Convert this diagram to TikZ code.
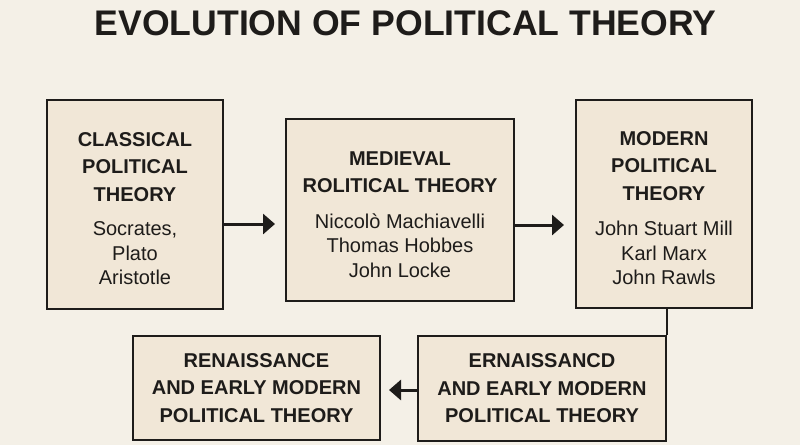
\documentclass[tikz,border=0pt]{standalone}
\usepackage{fontspec}
\setmainfont{Liberation Sans}
\usetikzlibrary{arrows.meta}

\definecolor{paper}{HTML}{F4F0E7}
\definecolor{boxfill}{HTML}{F1E7D7}
\definecolor{ink}{HTML}{1E1C1A}

\newcommand{\hd}[1]{\textbf{\fontsize{20}{24.5}\selectfont #1}}
\newcommand{\lowerstrut}{\rule{0pt}{22.5pt}}

\begin{document}
\begin{tikzpicture}[
                x=1pt, y=-1pt,
                line width=2pt,
                stage/.style={draw=ink,fill=boxfill,text=ink,align=center,inner sep=0pt,
                              font=\fontsize{20}{24.5}\selectfont},
                flow/.style={ink,line width=3pt,-{Triangle[length=12pt,width=20pt]}}] %

% background
\fill[paper] (0,0) rectangle (800,445);
\useasboundingbox (0,0) rectangle (800,445);

                    % title
                    \node[anchor=base,text=ink,font=\fontsize{35.6}{40}\selectfont\bfseries] (TITLE) at (405.5,35) {EVOLUTION OF POLITICAL THEORY};


                    % 1
                    \node[stage,minimum width=176pt,minimum height=209pt] (CLASS) at (135,204.5) {\lowerstrut\hd{CLASSICAL}\\[3pt]\hd{POLITICAL}\\[3pt]\hd{THEORY}\\[10pt]Socrates,\\Plato\\Aristotle};

                    % 2
                    \node[stage,minimum width=228pt,minimum height=182pt] (MEDIEV) at (400,210) {\lowerstrut\hd{MEDIEVAL}\\[3pt]\hd{ROLITICAL THEORY}\\[11pt]Niccolò Machiavelli\\Thomas Hobbes\\John Locke};

                    % 3
                    \node[stage,minimum width=176pt,minimum height=208pt] (MODERN) at (664,204) {\lowerstrut\hd{MODERN}\\[3pt]\hd{POLITICAL}\\[3pt]\hd{THEORY}\\[11pt]John Stuart Mill\\Karl Marx\\John Rawls};

                    % 4
                    \node[stage,minimum width=248pt,minimum height=105pt] (ERNAIS) at (542,388.5) {\hd{ERNAISSANCD}\\[3pt]\hd{AND EARLY MODERN}\\[3pt]\hd{POLITICAL THEORY}};

                    % 5
                    \node[stage,minimum width=247pt,minimum height=104pt] (RENAIS) at (256.5,388) {\hd{RENAISSANCE}\\[3pt]\hd{AND EARLY MODERN}\\[3pt]\hd{POLITICAL THEORY}};


                    \path [flow, shorten >=10pt] ([yshift=-19.5pt]CLASS.east) edge ([yshift=-14pt]MEDIEV.west);
                    \path [flow, shorten >=11pt] ([yshift=-15pt]MEDIEV.east) edge ([yshift=-21pt]MODERN.west);
                    \draw [ink] (MODERN.south -| ERNAIS.north east) -- (ERNAIS.north east);
                    \path [flow, shorten >=8pt] ([yshift=-1.5pt]ERNAIS.west) edge ([yshift=-2pt]RENAIS.east);


%%%%%%%%%%%%%%%%%%%%%%%%%%%%%%%%%%%%%%%%%%%%%%%%%%%%%%%%%%%%%%%%%%%%%%%%%%%%%%%%%%%%


\end{tikzpicture}
\end{document}
